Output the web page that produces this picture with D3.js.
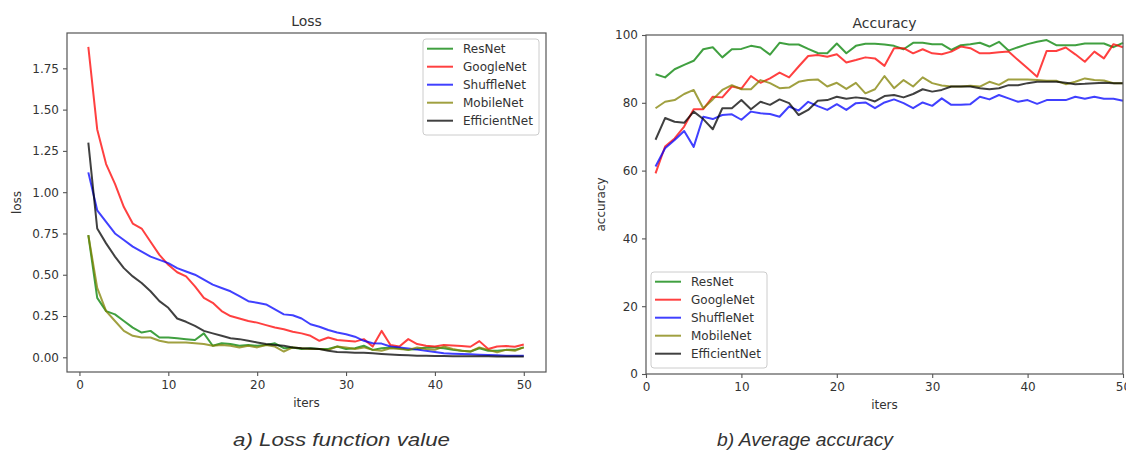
<!DOCTYPE html>
<html>
<head>
<meta charset="utf-8">
<script src="https://cdn.jsdelivr.net/npm/d3@7"></script>
<style>
  body { margin: 0; background: #fff; }
  svg text { font-family: "DejaVu Sans", sans-serif; fill: #333; }
</style>
</head>
<body>
<script>

/* DONNÉES */

var iters = [1, 2, 3, 4, 5, 6, 7, 8, 9, 10, 11, 12, 13, 14, 15, 16, 17, 18, 19, 20,
  21, 22, 23, 24, 25, 26, 27, 28, 29, 30, 31, 32, 33, 34, 35, 36, 37, 38, 39, 40,
  41, 42, 43, 44, 45, 46, 47, 48, 49, 50]

var names = ["ResNet", "GoogleNet", "ShuffleNet", "MobileNet", "EfficientNet"]
var colors = ["#008000", "#ff0000", "#0000ff", "#808000", "#000000"]

var lossResNet = [0.74, 0.36, 0.28, 0.26, 0.22, 0.18, 0.15, 0.16, 0.12, 0.12,
  0.115, 0.11, 0.105, 0.145, 0.07, 0.085, 0.08, 0.07, 0.075, 0.07,
  0.075, 0.085, 0.055, 0.06, 0.05, 0.055, 0.05, 0.05, 0.065, 0.05,
  0.055, 0.07, 0.045, 0.055, 0.06, 0.055, 0.045, 0.05, 0.06, 0.06,
  0.055, 0.045, 0.04, 0.035, 0.055, 0.04, 0.04, 0.045, 0.045, 0.06]
var lossGoogleNet = [1.88, 1.38, 1.17, 1.05, 0.91, 0.81, 0.78, 0.70, 0.62, 0.56,
  0.515, 0.49, 0.43, 0.36, 0.33, 0.28, 0.25, 0.235, 0.22, 0.21,
  0.195, 0.18, 0.17, 0.155, 0.145, 0.13, 0.10, 0.12, 0.105, 0.10,
  0.095, 0.11, 0.065, 0.16, 0.075, 0.065, 0.11, 0.08, 0.07, 0.065,
  0.075, 0.072, 0.068, 0.064, 0.098, 0.05, 0.065, 0.068, 0.064, 0.078]
var lossShuffleNet = [1.12, 0.89, 0.82, 0.75, 0.71, 0.67, 0.64, 0.61, 0.59, 0.57,
  0.54, 0.52, 0.50, 0.47, 0.44, 0.42, 0.40, 0.37, 0.34, 0.33,
  0.32, 0.29, 0.26, 0.255, 0.235, 0.20, 0.185, 0.165, 0.15, 0.14,
  0.125, 0.10, 0.085, 0.083, 0.065, 0.06, 0.054, 0.047, 0.04, 0.032,
  0.025, 0.022, 0.02, 0.018, 0.016, 0.014, 0.012, 0.01, 0.01, 0.01]
var lossMobileNet = [0.74, 0.42, 0.28, 0.22, 0.16, 0.13, 0.12, 0.12, 0.10, 0.09,
  0.09, 0.09, 0.085, 0.08, 0.07, 0.075, 0.07, 0.06, 0.07, 0.06,
  0.075, 0.065, 0.035, 0.06, 0.055, 0.05, 0.05, 0.045, 0.065, 0.06,
  0.05, 0.06, 0.045, 0.04, 0.055, 0.05, 0.045, 0.06, 0.05, 0.045,
  0.065, 0.05, 0.04, 0.035, 0.06, 0.045, 0.03, 0.045, 0.04, 0.06]
var lossEfficientNet = [1.30, 0.78, 0.69, 0.61, 0.54, 0.49, 0.45, 0.40, 0.34, 0.30,
  0.235, 0.215, 0.19, 0.16, 0.145, 0.13, 0.115, 0.11, 0.10, 0.09,
  0.08, 0.075, 0.07, 0.06, 0.055, 0.054, 0.05, 0.04, 0.032, 0.03,
  0.028, 0.027, 0.024, 0.02, 0.017, 0.014, 0.012, 0.01, 0.009, 0.008,
  0.008, 0.007, 0.007, 0.006, 0.006, 0.006, 0.005, 0.005, 0.005, 0.005]

var accResNet = [88.4, 87.5, 89.9, 91.2, 92.4, 95.8, 96.4, 93.4, 95.8, 95.9,
  96.8, 96.3, 94.2, 97.7, 97.2, 97.2, 95.9, 94.7, 94.6, 97.5,
  94.6, 96.8, 97.4, 97.4, 97.2, 96.8, 95.8, 97.7, 97.7, 97.3,
  97.3, 95.6, 97.0, 97.3, 97.7, 96.6, 98.0, 95.4, 96.4, 97.3,
  98.0, 98.5, 97.0, 97.0, 97.0, 97.5, 97.5, 97.5, 96.4, 97.7]
var accGoogleNet = [59.2, 67.1, 69.5, 73.0, 78.1, 78.1, 81.8, 81.6, 84.8, 84.2,
  87.9, 85.9, 87.2, 88.9, 87.5, 90.7, 93.8, 94.1, 93.6, 94.3,
  91.9, 92.6, 93.4, 93.1, 90.9, 96.1, 96.1, 94.6, 95.8, 94.6,
  94.3, 95.1, 96.6, 96.1, 94.6, 94.6, 94.9, 95.1, 92.6, 90.2,
  87.7, 95.3, 95.3, 96.3, 94.3, 92.1, 95.1, 93.1, 97.3, 96.4]
var accShuffleNet = [61.2, 66.6, 69.0, 71.7, 67.0, 75.9, 75.2, 76.4, 76.6, 75.0,
  77.4, 76.9, 76.7, 75.9, 78.9, 77.7, 80.3, 79.0, 77.9, 79.6,
  77.9, 79.9, 80.1, 78.4, 80.1, 81.0, 79.9, 78.4, 80.1, 79.1,
  81.3, 79.4, 79.4, 79.6, 81.8, 81.0, 82.3, 81.3, 80.3, 80.8,
  79.7, 80.8, 80.8, 80.8, 81.8, 81.2, 81.8, 81.2, 81.2, 80.6]
var accMobileNet = [78.4, 80.3, 80.8, 82.6, 83.8, 78.4, 81.0, 83.8, 85.2, 84.0,
  84.0, 86.7, 85.8, 84.3, 84.5, 86.2, 86.7, 86.9, 84.8, 85.9,
  84.1, 85.9, 82.8, 84.0, 87.9, 84.3, 86.7, 84.8, 87.5, 85.8,
  85.1, 84.8, 84.8, 85.0, 84.8, 86.2, 85.3, 86.9, 86.9, 86.9,
  86.7, 86.5, 86.5, 85.5, 86.2, 87.2, 86.7, 86.6, 85.8, 85.8]
var accEfficientNet = [69.1, 75.5, 74.4, 74.1, 77.4, 75.2, 72.2, 78.4, 78.4, 80.8,
  78.1, 80.3, 79.4, 81.0, 79.9, 76.4, 77.9, 80.6, 80.8, 81.8,
  81.2, 81.6, 81.3, 80.4, 82.0, 82.3, 81.6, 82.6, 84.0, 83.3,
  83.8, 84.8, 84.8, 84.8, 84.3, 84.0, 84.3, 85.2, 85.2, 85.8,
  86.2, 86.2, 86.2, 85.9, 85.5, 85.6, 85.8, 85.9, 85.8, 85.8]

var iterTicks = [0, 10, 20, 30, 40, 50]
var lossTicks = [0, 0.25, 0.5, 0.75, 1.0, 1.25, 1.5, 1.75]
var accTicks = [0, 20, 40, 60, 80, 100]

/* SVG */

var svg = d3.select("body").append("svg")
  .attr("width", 1126)
  .attr("height", 453)

svg.append("rect")
  .attr("width", 1126)
  .attr("height", 453)
  .attr("fill", "white")

/* UN GRAPHIQUE */

function panel(p) {

  var x = d3.scaleLinear().domain(p.xDomain).range([p.left, p.right])
  var y = d3.scaleLinear().domain(p.yDomain).range([p.bottom, p.top])

  var xAxis = d3.axisBottom(x).tickValues(iterTicks).tickSize(4).tickPadding(4).tickSizeOuter(0)
  var yAxis = d3.axisLeft(y).tickValues(p.yTicks).tickSize(4).tickPadding(4)
    .tickSizeOuter(0).tickFormat(p.yFormat)

  var gx = svg.append("g")
    .attr("transform", "translate(0," + p.bottom + ")")
    .call(xAxis)
  var gy = svg.append("g")
    .attr("transform", "translate(" + p.left + ",0)")
    .call(yAxis)

  ;[gx, gy].forEach(function(g){
    g.select(".domain").remove()
    g.selectAll(".tick line").attr("stroke", "#555").attr("stroke-width", 1.1)
    g.selectAll(".tick text").attr("font-size", "12px").attr("fill", "#3a3a3a")
      .style("font-family", "DejaVu Sans")
  })

  var line = d3.line()
    .x(function(d, i){ return x(iters[i]) })
    .y(function(d){ return y(d) })

  svg.append("g")
    .selectAll("path")
    .data(p.series)
    .enter()
    .append("path")
    .attr("d", function(d){ return line(d) })
    .attr("fill", "none")
    .attr("stroke", function(d, i){ return colors[i] })
    .attr("stroke-opacity", 0.75)
    .attr("stroke-width", 2)
    .attr("stroke-linejoin", "round")

  // cadre
  svg.append("rect")
    .attr("x", p.left)
    .attr("y", p.top)
    .attr("width", p.right - p.left)
    .attr("height", p.bottom - p.top)
    .attr("fill", "none")
    .attr("stroke", "#555")
    .attr("stroke-width", 1.2)

  svg.append("text")
    .text(p.title)
    .attr("x", (p.left + p.right) / 2)
    .attr("y", p.top - 7)
    .attr("text-anchor", "middle")
    .attr("font-size", "14px")

  svg.append("text")
    .text("iters")
    .attr("x", (p.left + p.right) / 2)
    .attr("y", p.bottom + 35)
    .attr("text-anchor", "middle")
    .attr("font-size", "12px")

  svg.append("text")
    .text(p.yLabel)
    .attr("transform", "translate(" + p.yLabelX + "," + (p.top + p.bottom) / 2 + ") rotate(-90)")
    .attr("text-anchor", "middle")
    .attr("font-size", "12px")

  // légende
  var lg = svg.append("g").attr("transform", "translate(" + p.legendX + "," + p.legendY + ")")
  lg.append("rect")
    .attr("width", 116)
    .attr("height", 96)
    .attr("rx", 3)
    .attr("fill", "white")
    .attr("fill-opacity", 0.8)
    .attr("stroke", "#ccc")

  names.forEach(function(n, i){
    var yy = 9.7 + i * 18
    lg.append("line")
      .attr("x1", 4).attr("x2", 30)
      .attr("y1", yy).attr("y2", yy)
      .attr("stroke", colors[i])
      .attr("stroke-opacity", 0.75)
      .attr("stroke-width", 2)
    lg.append("text")
      .text(n)
      .attr("x", 40)
      .attr("y", yy + 4.3)
      .attr("font-size", "12px")
  })
}

panel({
  left: 67, right: 546, top: 33, bottom: 372,
  xDomain: [-1.4, 52.5], yDomain: [-0.089, 1.964],
  yTicks: lossTicks, yFormat: d3.format(".2f"),
  series: [lossResNet, lossGoogleNet, lossShuffleNet, lossMobileNet, lossEfficientNet],
  title: "Loss", yLabel: "loss", yLabelX: 21,
  legendX: 423, legendY: 39
})

panel({
  left: 646, right: 1123, top: 35, bottom: 374,
  xDomain: [0, 50], yDomain: [0, 100],
  yTicks: accTicks, yFormat: d3.format("d"),
  series: [accResNet, accGoogleNet, accShuffleNet, accMobileNet, accEfficientNet],
  title: "Accuracy", yLabel: "accuracy", yLabelX: 605,
  legendX: 651, legendY: 272
})

/* LÉGENDES DU BAS */

svg.append("text")
  .text("a) Loss function value")
  .attr("x", 233)
  .attr("y", 446)
  .attr("textLength", 217)
  .attr("lengthAdjust", "spacingAndGlyphs")
  .attr("font-size", "19px")
  .attr("font-style", "italic")
  .style("font-family", "'Liberation Sans Narrow', 'Liberation Sans', Arial, sans-serif")
  .attr("fill", "#222")

svg.append("text")
  .text("b) Average accuracy")
  .attr("x", 717)
  .attr("y", 446)
  .attr("textLength", 176)
  .attr("lengthAdjust", "spacingAndGlyphs")
  .attr("font-size", "19px")
  .attr("font-style", "italic")
  .style("font-family", "'Liberation Sans Narrow', 'Liberation Sans', Arial, sans-serif")
  .attr("fill", "#222")

</script>
</body>
</html>
